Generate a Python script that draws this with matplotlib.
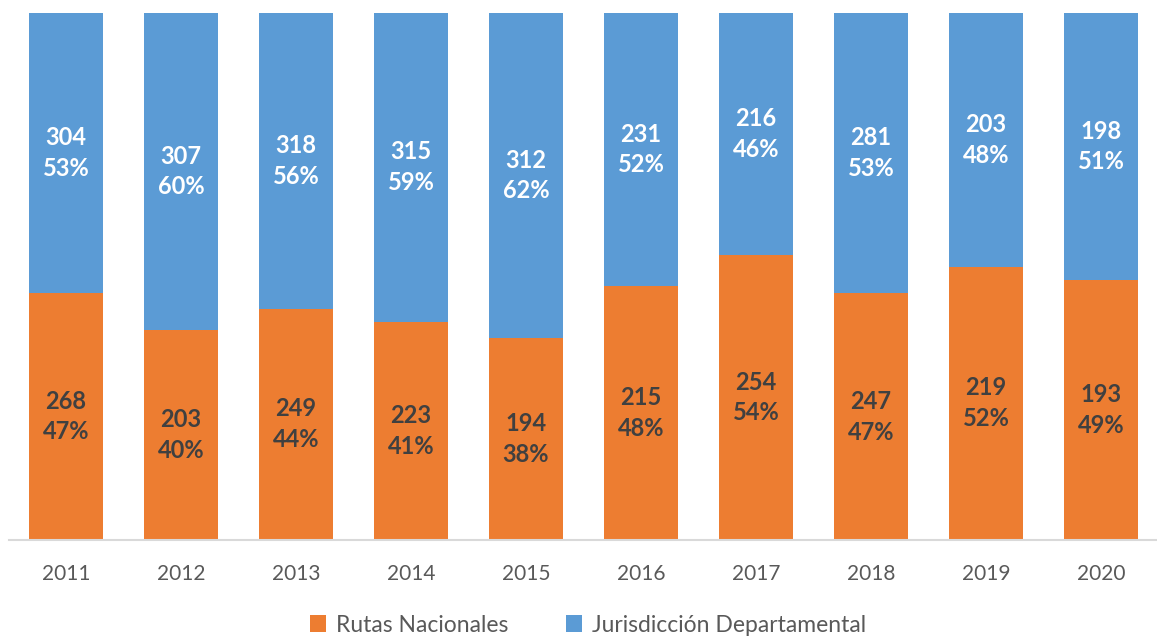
import matplotlib
matplotlib.use("Agg")
import matplotlib.pyplot as plt
import numpy as np

years = ["2011", "2012", "2013", "2014", "2015", "2016", "2017", "2018", "2019", "2020"]
rutas_nacionales = [268, 203, 249, 223, 194, 215, 254, 247, 219, 193]
jurisdiccion_departamental = [304, 307, 318, 315, 312, 231, 216, 281, 203, 198]
series_names = ["Rutas Nacionales", "Jurisdicción Departamental"]

ORANGE = "#ED7D31"
BLUE = "#5B9BD5"

plt.rcParams['font.family'] = ['Lato', 'DejaVu Sans']

fig = plt.figure(figsize=(11.57, 6.39), dpi=100)
ax = fig.add_axes([8.5/1157, 99/639, 1150/1157, 527/639])

rn = np.array(rutas_nacionales, dtype=float)
jd = np.array(jurisdiccion_departamental, dtype=float)
tot = rn + jd
p_rn = rn / tot
p_jd = jd / tot
x = np.arange(len(years))
w = 0.645

b1 = ax.bar(x, p_rn, w, color=ORANGE, label=series_names[0])
b2 = ax.bar(x, p_jd, w, bottom=p_rn, color=BLUE, label=series_names[1])

for i in range(len(years)):
    ax.text(x[i], p_rn[i]/2, f"{int(rn[i])}\n{round(p_rn[i]*100):.0f}%", ha='center', va='center',
            fontsize=17, fontweight='bold', color='#404040', linespacing=1.4)
    ax.text(x[i], p_rn[i] + p_jd[i]/2, f"{int(jd[i])}\n{round(p_jd[i]*100):.0f}%", ha='center', va='center',
            fontsize=17, fontweight='bold', color='white', linespacing=1.4)

ax.set_xlim(-0.5, len(years)-0.5)
ax.set_ylim(0, 1)
ax.set_xticks(x)
ax.set_xticklabels(years, fontsize=15, color='#595959')
ax.tick_params(axis='x', length=0, pad=17)
ax.set_yticks([])
for s in ['top', 'right', 'left']:
    ax.spines[s].set_visible(False)
ax.spines['bottom'].set_color('#D9D9D9')
ax.spines['bottom'].set_linewidth(1.5)

leg = fig.legend(handles=[b1, b2], labels=series_names, loc='center', bbox_to_anchor=(588/1157, 1 - 625/639),
                 ncol=2, frameon=False, fontsize=16.5, handlelength=0.7, handleheight=0.7,
                 handletextpad=0.45, columnspacing=2.5)
for t in leg.get_texts():
    t.set_color('#595959')

fig.savefig("out.png", dpi=100)
